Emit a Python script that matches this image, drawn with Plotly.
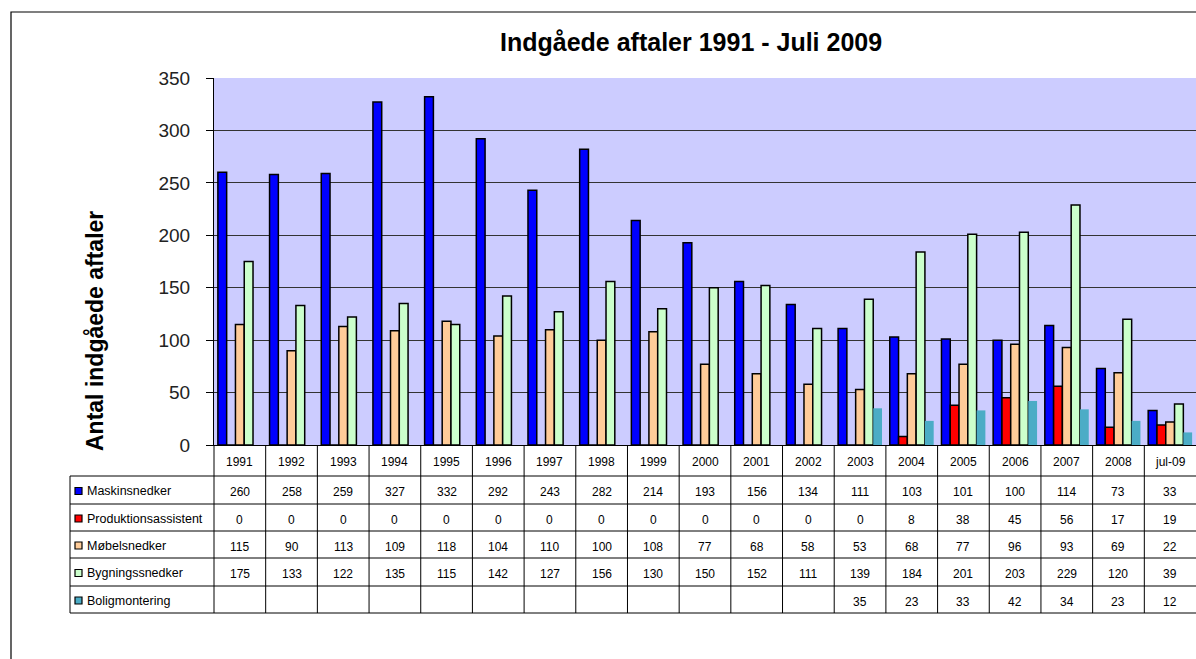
import plotly.graph_objects as go

years = ['1991', '1992', '1993', '1994', '1995', '1996', '1997', '1998', '1999', '2000',
         '2001', '2002', '2003', '2004', '2005', '2006', '2007', '2008', 'jul-09']
maskinsnedker = [260, 258, 259, 327, 332, 292, 243, 282, 214, 193, 156, 134, 111, 103, 101, 100, 114, 73, 33]
produktionsassistent = [0, 0, 0, 0, 0, 0, 0, 0, 0, 0, 0, 0, 0, 8, 38, 45, 56, 17, 19]
mobelsnedker = [115, 90, 113, 109, 118, 104, 110, 100, 108, 77, 68, 58, 53, 68, 77, 96, 93, 69, 22]
bygningssnedker = [175, 133, 122, 135, 115, 142, 127, 156, 130, 150, 152, 111, 139, 184, 201, 203, 229, 120, 39]
boligmontering = [None] * 12 + [35, 23, 33, 42, 34, 23, 12]

series = [
    ('Maskinsnedker', maskinsnedker, '#0000FF', 1.5),
    ('Produktionsassistent', produktionsassistent, '#FF0000', 1.5),
    ('Møbelsnedker', mobelsnedker, '#FFCC99', 1.5),
    ('Bygningssnedker', bygningssnedker, '#CCFFCC', 1.5),
    ('Boligmontering', boligmontering, '#4BACC6', 0),
]

W, H = 1196, 659
L, R, T, B = 214, 0, 78, 214
PW = W - L - R
PH = H - T - B
FONT = 'Liberation Sans, Arial, sans-serif'


def px_x(px):
    return (px - L) / PW


def px_y(py):
    return (H - B - py) / PH


fig = go.Figure()
for name, vals, col, lw in series:
    fig.add_trace(go.Bar(
        x=years, y=vals, name=name,
        marker=dict(color=col, line=dict(color='black', width=lw)),
        hoverinfo='x+y+name',
    ))

shapes = []
annotations = []

# outer chart border
shapes.append(dict(type='rect', xref='paper', yref='paper',
                   x0=px_x(11), x1=px_x(1400), y0=px_y(900), y1=px_y(12),
                   line=dict(color='black', width=1.2), fillcolor='rgba(0,0,0,0)', layer='below'))

# data table geometry
n = len(years)
col_w = PW / n
row_lines = [476, 504, 531, 558, 586, 613]
header_top = H - B
table_left = 70

# vertical lines of the table columns
for i in range(n):
    xp = L + i * col_w
    shapes.append(dict(type='line', xref='paper', yref='paper',
                       x0=px_x(xp), x1=px_x(xp), y0=px_y(header_top), y1=px_y(row_lines[-1]),
                       line=dict(color='black', width=1)))
# left border of legend column
shapes.append(dict(type='line', xref='paper', yref='paper',
                   x0=px_x(table_left), x1=px_x(table_left), y0=px_y(row_lines[0]), y1=px_y(row_lines[-1]),
                   line=dict(color='black', width=1)))
# horizontal lines
for ry in row_lines:
    shapes.append(dict(type='line', xref='paper', yref='paper',
                       x0=px_x(table_left), x1=1.0, y0=px_y(ry), y1=px_y(ry),
                       line=dict(color='black', width=1)))

# header (year) labels
for i, yr in enumerate(years):
    annotations.append(dict(xref='paper', yref='paper', x=px_x(L + (i + 0.5) * col_w),
                            y=px_y((header_top + row_lines[0]) / 2 + 1), text=yr, showarrow=False,
                            xanchor='center', yanchor='middle', font=dict(family=FONT, size=12, color='black')))

# data rows
for r, (name, vals, col, lw) in enumerate(series):
    y0, y1 = row_lines[r], row_lines[r + 1]
    yc = (y0 + y1) / 2
    # legend key
    shapes.append(dict(type='rect', xref='paper', yref='paper',
                       x0=px_x(75), x1=px_x(82), y0=px_y(yc + 4.5), y1=px_y(yc - 2.5),
                       fillcolor=col, line=dict(color='black', width=1.2)))
    annotations.append(dict(xref='paper', yref='paper', x=px_x(85), y=px_y(yc + 1),
                            text=name, showarrow=False, xanchor='left', yanchor='middle',
                            font=dict(family=FONT, size=12.5, color='black')))
    for i, v in enumerate(vals):
        if v is None:
            continue
        annotations.append(dict(xref='paper', yref='paper', x=px_x(L + (i + 0.5) * col_w),
                                y=px_y(yc + 2), text=str(v), showarrow=False,
                                xanchor='center', yanchor='middle',
                                font=dict(family=FONT, size=12, color='black')))

# titles
annotations.append(dict(xref='paper', yref='paper', x=px_x(691), y=px_y(42),
                        text='<b>Indgåede aftaler 1991 - Juli 2009</b>', showarrow=False,
                        xanchor='center', yanchor='middle', font=dict(family=FONT, size=25, color='black')))
annotations.append(dict(xref='paper', yref='paper', x=px_x(95), y=px_y(331),
                        text='<b>Antal indgåede aftaler</b>', showarrow=False, textangle=-90,
                        xanchor='center', yanchor='middle', font=dict(family=FONT, size=23, color='black')))

fig.update_layout(
    width=W, height=H,
    margin=dict(l=L, r=R, t=T, b=B, pad=0),
    paper_bgcolor='white', plot_bgcolor='#CCCCFF',
    barmode='group', bargap=0.15, bargroupgap=0,
    showlegend=False,
    shapes=shapes, annotations=annotations,
    xaxis=dict(type='category', range=[-0.5, n - 0.5], showticklabels=False, ticks='',
               showgrid=False, showline=True, linecolor='black', linewidth=1, fixedrange=True),
    yaxis=dict(range=[0, 350], dtick=50, tick0=0, showgrid=True, gridcolor='#333333', gridwidth=1,
               zeroline=False, showline=True, linecolor='black', linewidth=1,
               ticks='outside', ticklen=7, tickcolor='black', tickwidth=1, ticklabelstandoff=12,
               tickfont=dict(family=FONT, size=19, color='#222222'), fixedrange=True),
)

fig.write_html('out.html', config={'displayModeBar': False},
               post_script="document.body.style.margin='0';document.body.style.overflow='hidden';")
